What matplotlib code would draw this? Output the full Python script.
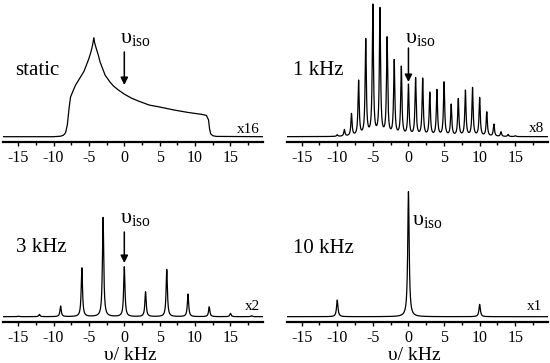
import numpy as np
import matplotlib
matplotlib.use('Agg')
import matplotlib.pyplot as plt

plt.rcParams['font.family'] = ['Liberation Serif', 'DejaVu Serif']
plt.rcParams['mathtext.fontset'] = 'custom'
plt.rcParams['mathtext.rm'] = 'Liberation Serif'
plt.rcParams['mathtext.it'] = 'Liberation Serif:italic'
plt.rcParams['axes.unicode_minus'] = False

# ---------------- data ----------------
# static powder pattern (kHz, relative intensity)
static_khz = [-17.1, -10.0, -9.0, -8.6, -8.3, -8.05, -7.8, -7.6, -7.2, -6.9, -6.3,
              -5.7, -5.0, -4.7, -4.5, -4.4, -4.3, -4.2, -4.0, -3.7, -3.4, -2.7,
              -2.0, -1.5, -0.8, 0.0, 1.0, 2.0, 3.5, 5.0, 7.0, 9.0, 10.0, 11.0,
              11.6, 11.9, 12.05, 12.2, 12.5, 13.0, 19.6]
static_int = [0.0, 0.0, 0.005, 0.015, 0.04, 0.12, 0.29, 0.40, 0.47, 0.52, 0.59,
              0.66, 0.79, 0.86, 0.92, 0.96, 1.0, 0.95, 0.90, 0.83, 0.75, 0.62,
              0.55, 0.51, 0.47, 0.43, 0.39, 0.36, 0.32, 0.30, 0.27, 0.245, 0.235, 0.225,
              0.215, 0.17, 0.08, 0.03, 0.01, 0.003, 0.0]

# spinning sidebands: positions (kHz) and peak heights (arb.)
sb1_pos = list(range(-10, 16))
sb1_height = [2, 7.3, 23.3, 56.7, 98.3, 132.7, 129.3, 100, 77.3, 70.7,
              52.7,
              59.3, 58.7, 44.7, 47.3, 55, 32.7, 38.3, 46.7, 49.3, 39.3,
              25, 12.7, 5, 2.3, 1]
sb3_pos = [-15, -12, -9, -6, -3, 0, 3, 6, 9, 12, 15, 18]
sb3_height = [0.5, 2.3, 10.7, 49, 99.3, 50, 25, 47.3, 22.7, 10, 3.3, 1]
sb10_pos = [-10, 0, 10]
sb10_height = [16.7, 125, 12.3]

panel_labels = ['static', '1 kHz', '3 kHz', '10 kHz']
scale_labels = ['x16', 'x8', 'x2', 'x1']
xticks = [-15, -10, -5, 0, 5, 10, 15]
xlabel = 'υ/ kHz'
iso_label = r'$\mathrm{υ}_{\mathrm{iso}}$'

# ---------------- helpers ----------------
XMIN, XMAX = -17.1, 19.6
x = np.linspace(XMIN, XMAX, 6000)


def lorentz_spectrum(pos, height, gamma):
    pos = np.asarray(pos, float)
    h = np.asarray(height, float)
    M = gamma**2 / ((pos[:, None] - pos[None, :])**2 + gamma**2)
    amp = np.clip(np.linalg.solve(M, h), 0, None)
    return (amp[None, :] * gamma**2 / ((x[:, None] - pos[None, :])**2 + gamma**2)).sum(axis=1)


fig = plt.figure(figsize=(5.5, 3.63), dpi=100)
W, H = 550.0, 363.0


def make_ax(left_px, top_px, right_px, bottom_px):
    return fig.add_axes([left_px / W, 1 - bottom_px / H,
                         (right_px - left_px) / W, (bottom_px - top_px) / H])


ax_s = make_ax(3.3, 0, 263, 141.7)
ax_1 = make_ax(286.7, 0, 548, 141.7)
ax_3 = make_ax(3.3, 180, 263, 321.7)
ax_10 = make_ax(286.7, 180, 548, 321.7)

for ax in (ax_s, ax_1, ax_3, ax_10):
    for s in ('left', 'right', 'top'):
        ax.spines[s].set_visible(False)
    ax.spines['bottom'].set_linewidth(1.6)
    ax.set_yticks([])
    ax.set_xlim(XMIN, XMAX)
    ax.set_xticks(xticks)
    ax.set_xticks(np.arange(-15, 19, 2.5), minor=True)
    ax.tick_params(axis='x', which='major', direction='out', length=3, width=1,
                   labelsize=11.5, pad=3)
    ax.tick_params(axis='x', which='minor', direction='out', length=2.5, width=1)
    ax.patch.set_alpha(0)

lw = 0.9
# static
ax_s.plot(static_khz, static_int, color='k', lw=lw)
ax_s.set_ylim(-5 / 99, 136.7 / 99)
# 1 kHz
ax_1.plot(x, lorentz_spectrum(sb1_pos, sb1_height, 0.1), color='k', lw=lw)
# 3 kHz
ax_3.plot(x, lorentz_spectrum(sb3_pos, sb3_height, 0.11), color='k', lw=lw)
# 10 kHz
ax_10.plot(x, lorentz_spectrum(sb10_pos, sb10_height, 0.12), color='k', lw=lw)
for ax in (ax_1, ax_3, ax_10):
    ax.set_ylim(-5, 136.7)

# panel texts
fs_lab = 15
ax_s.text(-15.4, 0.623, panel_labels[0], fontsize=fs_lab, ha='left', va='baseline')
ax_1.text(-16.2, 61.7, panel_labels[1], fontsize=fs_lab, ha='left', va='baseline')
ax_3.text(-15.3, 65, panel_labels[2], fontsize=fs_lab, ha='left', va='baseline')
ax_10.text(-16.2, 64, panel_labels[3], fontsize=fs_lab, ha='left', va='baseline')

fs_sc = 11
ax_s.text(19.2, 0.04, scale_labels[0], fontsize=fs_sc, ha='right', va='baseline')
ax_1.text(19.1, 5, scale_labels[1], fontsize=fs_sc, ha='right', va='baseline')
ax_3.text(19.2, 6.7, scale_labels[2], fontsize=fs_sc, ha='right', va='baseline')
ax_10.text(18.8, 6.7, scale_labels[3], fontsize=fs_sc, ha='right', va='baseline')

fs_iso = 16
ax_s.text(-0.56, 0.946, iso_label, fontsize=fs_iso, ha='left', va='baseline')
ax_1.text(-0.47, 93.7, iso_label, fontsize=fs_iso, ha='left', va='baseline')
ax_3.text(-0.56, 93.7, iso_label, fontsize=fs_iso, ha='left', va='baseline')
ax_10.text(0.52, 91.7, iso_label, fontsize=fs_iso, ha='left', va='baseline')

ap = dict(arrowstyle='-|>', lw=1.1, color='k', mutation_scale=11,
          shrinkA=0, shrinkB=0)
ax_s.annotate('', xy=(0, 0.522), xytext=(0, 0.856), arrowprops=ap)
ax_1.annotate('', xy=(0, 54.7), xytext=(0, 88.7), arrowprops=ap)
ax_3.annotate('', xy=(0, 53.7), xytext=(0, 84.7), arrowprops=ap)

# x-axis titles of the bottom panels
fig.text(130 / W, 1 - 359.5 / H, xlabel, fontsize=14, ha='center', va='baseline')
fig.text(414 / W, 1 - 359.5 / H, xlabel, fontsize=14, ha='center', va='baseline')

fig.savefig('out.png', dpi=100)
